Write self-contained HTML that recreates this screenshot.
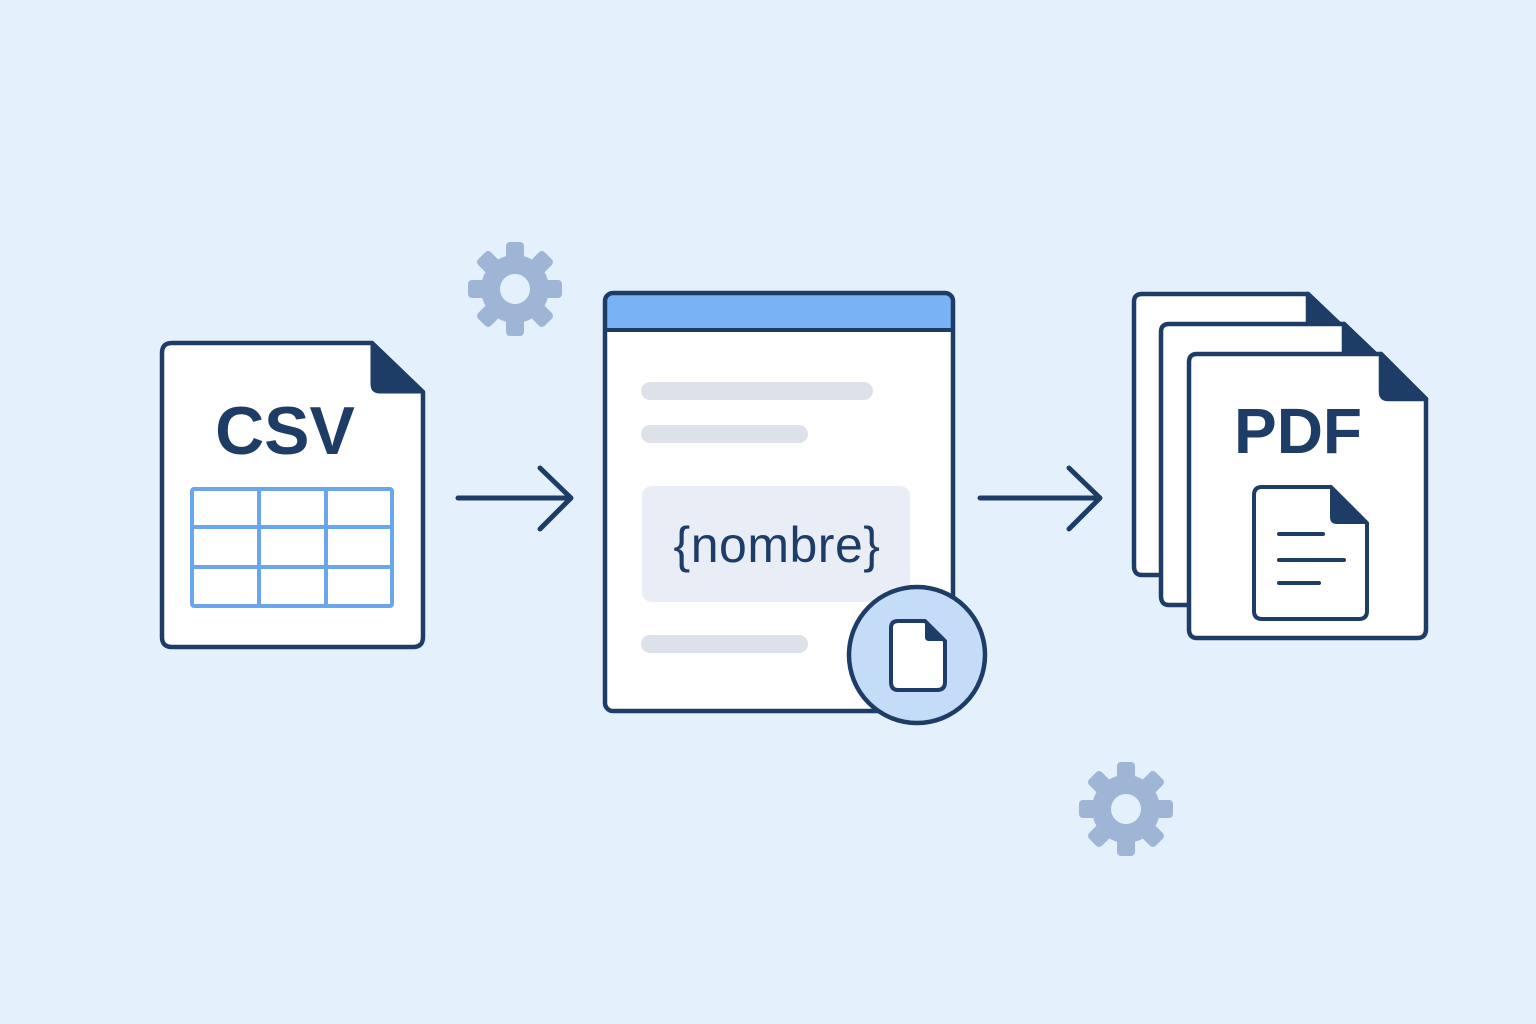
<!DOCTYPE html>
<html><head><meta charset="utf-8"><style>
html,body{margin:0;padding:0;background:#e4f1fc;}
svg{display:block;}
text{font-family:"Liberation Sans","DejaVu Sans",sans-serif;}
</style></head><body>
<svg width="1536" height="1024" viewBox="0 0 1536 1024" xmlns="http://www.w3.org/2000/svg">
<defs>
<g id="gear">
 <g fill="#9fb5d6">
  <circle r="34"/>
  <rect x="-9" y="-47" width="18" height="20" rx="4"/>
  <rect x="-9" y="-47" width="18" height="20" rx="4" transform="rotate(45)"/>
  <rect x="-9" y="-47" width="18" height="20" rx="4" transform="rotate(90)"/>
  <rect x="-9" y="-47" width="18" height="20" rx="4" transform="rotate(135)"/>
  <rect x="-9" y="-47" width="18" height="20" rx="4" transform="rotate(180)"/>
  <rect x="-9" y="-47" width="18" height="20" rx="4" transform="rotate(225)"/>
  <rect x="-9" y="-47" width="18" height="20" rx="4" transform="rotate(270)"/>
  <rect x="-9" y="-47" width="18" height="20" rx="4" transform="rotate(315)"/>
 </g>
 <circle r="15" fill="#e4f1fc"/>
</g>
</defs>
<rect width="1536" height="1024" fill="#e4f1fc"/>
<use href="#gear" transform="translate(515,289)"/>
<use href="#gear" transform="translate(1126,809)"/>

<!-- CSV -->
<path d="M172 343 H372 L423 392 V637 Q423 647 413 647 H172 Q162 647 162 637 V353 Q162 343 172 343 Z" fill="#fff" stroke="#1e3d66" stroke-width="4.5" stroke-linejoin="round"/>
<path d="M372 343 L423 392 H380 Q372 392 372 384 Z" fill="#1e3d66" stroke="#1e3d66" stroke-width="3" stroke-linejoin="round"/>
<text x="285" y="454" font-size="68" font-weight="bold" fill="#1e3d66" text-anchor="middle">CSV</text>
<g fill="none" stroke="#6aa6ee" stroke-width="4">
 <rect x="192" y="489" width="200" height="117" rx="2"/>
 <line x1="259" y1="489" x2="259" y2="606"/><line x1="326" y1="489" x2="326" y2="606"/>
 <line x1="192" y1="527" x2="392" y2="527"/><line x1="192" y1="567" x2="392" y2="567"/>
</g>

<!-- arrows -->
<g fill="none" stroke="#1e3d66" stroke-width="5" stroke-linecap="round" stroke-linejoin="round">
 <line x1="458" y1="498" x2="570" y2="498"/><polyline points="540,468 571,498 540,529"/>
 <line x1="980" y1="498" x2="1099" y2="498"/><polyline points="1069,468 1100,498 1069,529"/>
</g>

<!-- template -->
<rect x="605" y="293" width="348" height="418" rx="8" fill="#fff"/>
<path d="M605 330 V301 Q605 293 613 293 H945 Q953 293 953 301 V330 Z" fill="#79b2f5"/>
<line x1="605" y1="330" x2="953" y2="330" stroke="#1e3d66" stroke-width="4"/>
<rect x="605" y="293" width="348" height="418" rx="8" fill="none" stroke="#1e3d66" stroke-width="4.5"/>
<g stroke="#dde2ea" stroke-width="18" stroke-linecap="round">
 <line x1="650" y1="391" x2="864" y2="391"/>
 <line x1="650" y1="434" x2="799" y2="434"/>
 <line x1="650" y1="644" x2="799" y2="644"/>
</g>
<rect x="642" y="486" width="268" height="116" rx="10" fill="#e9eef6"/>
<text x="777" y="562" font-size="50" fill="#1e3d66" text-anchor="middle" letter-spacing="0.5">{nombre}</text>
<circle cx="917" cy="655" r="68" fill="#c5dcf8" stroke="#1e3d66" stroke-width="4.5"/>
<path d="M898 621 H925 L945 641 V682 Q945 690 937 690 H898 Q891 690 891 682 V628 Q891 621 898 621 Z" fill="#fff" stroke="#1e3d66" stroke-width="4" stroke-linejoin="round"/>
<path d="M925 621 L945 641 H929 Q925 641 925 637 Z" fill="#1e3d66"/>

<!-- PDF stack -->
<g stroke="#1e3d66" stroke-width="4.5" stroke-linejoin="round">
 <path d="M1142 294 H1308 L1352 336 V566 Q1352 575 1343 575 H1142 Q1134 575 1134 566 V302 Q1134 294 1142 294 Z" fill="#fff"/>
 <path d="M1308 294 L1352 336 H1314 Q1308 336 1308 330 Z" fill="#1e3d66"/>
 <path d="M1169 324 H1344 L1388 366 V596 Q1388 605 1379 605 H1169 Q1161 605 1161 596 V332 Q1161 324 1169 324 Z" fill="#fff"/>
 <path d="M1344 324 L1388 366 H1350 Q1344 366 1344 360 Z" fill="#1e3d66"/>
 <path d="M1197 354 H1381 L1426 399 V629 Q1426 638 1417 638 H1197 Q1189 638 1189 629 V362 Q1189 354 1197 354 Z" fill="#fff"/>
 <path d="M1381 354 L1426 399 H1388 Q1381 399 1381 392 Z" fill="#1e3d66"/>
</g>
<text x="1298" y="453" font-size="64" font-weight="bold" fill="#1e3d66" text-anchor="middle">PDF</text>
<path d="M1262 487 H1331 L1367 523 V611 Q1367 619 1359 619 H1262 Q1254 619 1254 611 V495 Q1254 487 1262 487 Z" fill="#fff" stroke="#1e3d66" stroke-width="4" stroke-linejoin="round"/>
<path d="M1331 487 L1367 523 H1337 Q1331 523 1331 517 Z" fill="#1e3d66" stroke="#1e3d66" stroke-width="2"/>
<g stroke="#1e3d66" stroke-width="4" stroke-linecap="round">
 <line x1="1279" y1="534" x2="1323" y2="534"/>
 <line x1="1279" y1="560" x2="1344" y2="560"/>
 <line x1="1279" y1="583" x2="1319" y2="583"/>
</g>
</svg>
</body></html>
